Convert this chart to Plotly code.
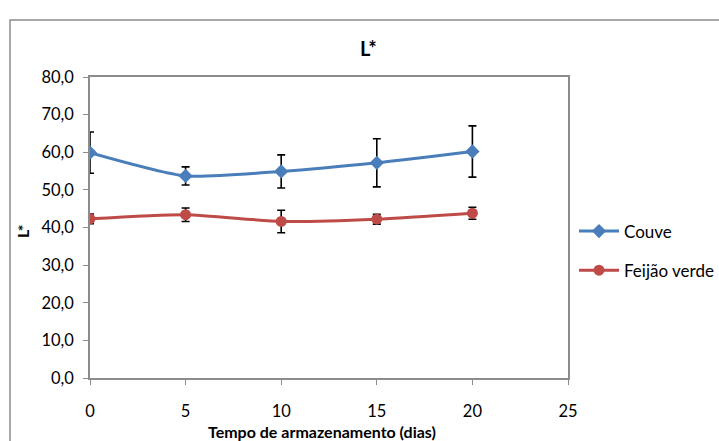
import plotly.graph_objects as go

dias = [0, 5, 10, 15, 20]
couve = [59.9, 53.7, 54.9, 57.2, 60.2]
couve_err = [5.5, 2.4, 4.4, 6.4, 6.8]
feijao = [42.3, 43.4, 41.6, 42.2, 43.8]
feijao_err = [1.3, 1.8, 3.0, 1.3, 1.6]

FONT = "Lato"
L, R, T, B = 90, 568, 77, 378
W, H = 719, 441
pw, ph = R - L, B - T

def px(x):
    return (x - L) / pw

def py(y):
    return (B - y) / ph

fig = go.Figure()
fig.add_trace(go.Scatter(
    x=dias, y=couve, name="Couve", mode="lines+markers", legendgroup="a",
    line=dict(color="#4A7EBB", width=3, shape="spline", smoothing=0.6),
    marker=dict(symbol="diamond", size=11, color="#4A7EBB"),
    error_y=dict(type="data", array=couve_err, color="black", thickness=1.6, width=4),
))
fig.add_trace(go.Scatter(
    x=dias, y=feijao, name="Feijão verde", mode="lines+markers", legendgroup="b",
    line=dict(color="#BE4B48", width=3, shape="spline", smoothing=0.6),
    marker=dict(symbol="circle", size=11, color="#BE4B48"),
    error_y=dict(type="data", array=feijao_err, color="black", thickness=1.6, width=4),
))

fig.update_layout(
    width=W, height=H,
    margin=dict(l=L, r=W - R, t=T, b=H - B, pad=0, autoexpand=False),
    paper_bgcolor="white", plot_bgcolor="white",
    font=dict(family=FONT, size=16, color="black"),
    separators=",.",
    showlegend=True,
    legend=dict(x=px(574), y=py(251), xanchor="left", yanchor="middle",
                font=dict(size=17, family=FONT), bgcolor="rgba(0,0,0,0)",
                tracegroupgap=14, itemwidth=40),
    xaxis=dict(range=[0, 25], tickvals=[0, 5, 10, 15, 20, 25], showgrid=False,
               zeroline=False, showline=True, linecolor="#8C8C8C", linewidth=1.5,
               mirror=True, ticks="outside", ticklen=5, tickcolor="#8C8C8C",
               tickfont=dict(size=16.5), ticklabelstandoff=12, automargin=False),
    yaxis=dict(range=[0, 80], tickvals=[0, 10, 20, 30, 40, 50, 60, 70, 80],
               tickformat=".1f", showgrid=False, zeroline=False, showline=True,
               linecolor="#8C8C8C", linewidth=1.5, mirror=True, ticks="outside",
               ticklen=5, tickcolor="#8C8C8C", tickfont=dict(size=16.5),
               ticklabelstandoff=6, automargin=False),
    annotations=[
        dict(text="<b>L*</b>", x=px(368), y=py(48), xref="paper", yref="paper",
             showarrow=False, font=dict(size=20), xanchor="center", yanchor="middle"),
        dict(text="<b>Tempo de armazenamento (dias)</b>", x=px(322), y=py(431),
             xref="paper", yref="paper", showarrow=False, font=dict(size=16),
             xanchor="center", yanchor="middle"),
        dict(text="<b>L*</b>", x=px(23), y=py(232), xref="paper", yref="paper",
             showarrow=False, font=dict(size=16), textangle=-90,
             xanchor="center", yanchor="middle"),
    ],
    shapes=[dict(type="rect", xref="paper", yref="paper",
                 x0=px(10), x1=px(760), y0=py(480), y1=py(20),
                 line=dict(color="#8C8C8C", width=1.5), fillcolor="rgba(0,0,0,0)", layer="below")],
)

fig.write_html("out.html")
